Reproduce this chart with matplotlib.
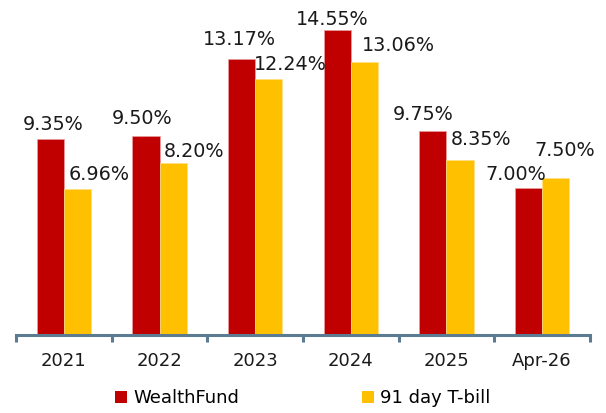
import matplotlib
matplotlib.use("Agg")
import matplotlib.pyplot as plt
from matplotlib.patches import Patch
import numpy as np

categories = ["2021", "2022", "2023", "2024", "2025", "Apr-26"]
wealthfund = [9.35, 9.50, 13.17, 14.55, 9.75, 7.00]
tbill = [6.96, 8.20, 12.24, 13.06, 8.35, 7.50]
series_names = ["WealthFund", "91 day T-bill"]

RED = "#C00000"
GOLD = "#FFC000"
AXC = "#5B7B90"

plt.rcParams['font.family'] = ['DejaVu Sans']
fig = plt.figure(figsize=(6.06, 4.13), dpi=100)
ax = fig.add_axes([16/606, 78/413, 574/606, 335/413])

x = np.arange(len(categories))
w = 0.283
ax.bar(x - w/2, wealthfund, width=w, color=RED, edgecolor="#E8A0A0", linewidth=0.5)
ax.bar(x + w/2, tbill, width=w, color=GOLD, edgecolor="#FFE080", linewidth=0.5)

ax.set_xlim(-0.5, len(categories) - 0.5)
ax.set_ylim(0, 16)

# label placement offsets (pixels), as in the reference layout
red_off = [(3, 9), (-4, 12), (-2, 14), (-5, 5), (-10, 11), (-13, 8)]
gold_off = [(22, 9), (21, 6), (22, 9), (34, 11), (21, 15), (9, 22)]
fs = 13.8
for i, v in enumerate(wealthfund):
    ax.annotate(f"{v:.2f}%", (x[i] - w/2, v), xytext=red_off[i], textcoords="offset pixels",
                ha="center", va="baseline", fontsize=fs, color="#1a1a1a", annotation_clip=False)
for i, v in enumerate(tbill):
    ax.annotate(f"{v:.2f}%", (x[i] + w/2, v), xytext=gold_off[i], textcoords="offset pixels",
                ha="center", va="baseline", fontsize=fs, color="#1a1a1a", annotation_clip=False)

for s in ["top", "right", "left"]:
    ax.spines[s].set_visible(False)
ax.spines["bottom"].set_color(AXC)
ax.spines["bottom"].set_linewidth(2.2)
ax.set_yticks([])
ax.set_xticks(x)
ax.set_xticklabels(categories, fontsize=13, color="#1a1a1a")
ax.tick_params(axis="x", which="major", length=0, pad=12.5)
ax.set_xticks(np.arange(-0.5, len(categories)), minor=True)
ax.tick_params(axis="x", which="minor", length=5, width=2.2, color=AXC, direction="out")

handles = [Patch(facecolor=RED, edgecolor="none"), Patch(facecolor=GOLD, edgecolor="none")]
fig.legend(handles, series_names, loc="center", bbox_to_anchor=(0.5, 15/413), ncol=2,
           frameon=False, fontsize=13, handlelength=0.65, handleheight=0.65, handletextpad=0.35,
           columnspacing=6.8)

fig.savefig("out.png", dpi=100)
